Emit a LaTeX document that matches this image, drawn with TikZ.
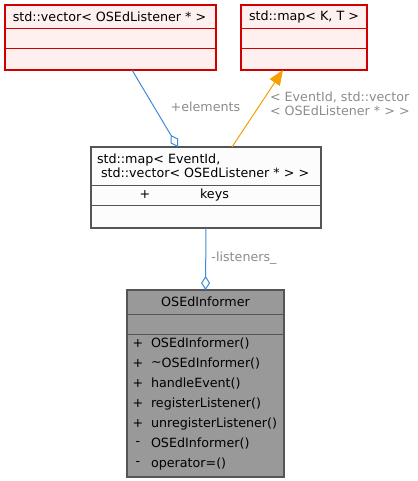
\documentclass[tikz,border=0pt]{standalone}
\usepackage{fontspec}
\setmainfont{DejaVu Sans}
\usetikzlibrary{arrows.meta}
\definecolor{pinkfill}{HTML}{FFF0F0}
\definecolor{tplred}{HTML}{D00000}
\definecolor{cfill}{HTML}{FBFCFB}
\definecolor{cborder}{HTML}{555555}
\definecolor{dfill}{HTML}{999999}
\definecolor{dborder}{HTML}{555555}
\definecolor{edgeblue}{HTML}{3D8BD6}
\definecolor{edgeorange}{HTML}{F5A000}
\definecolor{lblgray}{HTML}{8C8C8C}
\newcommand{\boxfont}{\fontsize{12.7}{14}\selectfont}
\begin{document}
\begin{tikzpicture}[x=1pt,y=1pt,
  every node/.style={inner sep=0pt, outer sep=0pt},
  tplbox/.style={draw=tplred, fill=pinkfill, line width=1.2pt, minimum height=65pt},
  classbox/.style={draw=cborder, fill=cfill, line width=1.1pt},
  curbox/.style={draw=dborder, fill=dfill, line width=1.1pt},
  sepline/.style={line width=1pt},
  usage/.style={draw=edgeblue, line width=1pt, -{Diamond[open, length=14pt, width=9pt, line width=1pt]}},
  tplinst/.style={draw=edgeorange, line width=1pt, -{Triangle[length=15pt, width=12pt, fill=edgeorange]}},
  elabel/.style={text=lblgray, font=\boxfont},
  txt/.style={text=black, font=\boxfont}
]
\useasboundingbox (0,0) rectangle (417,-481);

% Box A: std::vector< OSEdListener * >
\node[tplbox, minimum width=211pt] (A) at (110.5,-37.5) {};
\draw[tplred, sepline] ([yshift=-24pt]A.north west) -- ([yshift=-24pt]A.north east);
\draw[tplred, sepline] ([yshift=-44pt]A.north west) -- ([yshift=-44pt]A.north east);
\node[txt] (Atitle) at (109.5,-17) {std::vector< OSEdListener * >};

% Box B: std::map< K, T >
\node[tplbox, minimum width=126pt] (B) at (304,-37.5) {};
\draw[tplred, sepline] ([yshift=-24pt]B.north west) -- ([yshift=-24pt]B.north east);
\draw[tplred, sepline] ([yshift=-44pt]B.north west) -- ([yshift=-44pt]B.north east);
\node[txt] (Btitle) at (304,-17) {std::map< K, T >};

% Box C: std::map< EventId, std::vector< OSEdListener * > >
\node[classbox, minimum width=230pt, minimum height=81pt] (C) at (206,-187.5) {};
\draw[cborder, sepline] ([yshift=-38pt]C.north west) -- ([yshift=-38pt]C.north east);
\draw[cborder, sepline] ([yshift=-58pt]C.north west) -- ([yshift=-58pt]C.north east);
\node[txt, anchor=west, align=left] (Ctitle) at (97,-166)
  {std::map< EventId,\\\hspace*{4pt}std::vector< OSEdListener * > >};
\node[txt] (Cplus) at (145,-195) {+};
\node[txt] (Ckeys) at (214.5,-195) {keys};

% Box D: OSEdInformer
\node[curbox, minimum width=157pt, minimum height=187pt] (D) at (205.5,-383.5) {};
\draw[dborder, sepline] ([yshift=-24pt]D.north west) -- ([yshift=-24pt]D.north east);
\draw[dborder, sepline] ([yshift=-44pt]D.north west) -- ([yshift=-44pt]D.north east);
\node[txt] (Dtitle) at (205.5,-302) {OSEdInformer};
\foreach \v/\m [count=\i from 0] in {+/OSEdInformer(), +/{\raisebox{0.2ex}{\textasciitilde}OSEdInformer()}, +/handleEvent(), +/registerListener(), +/unregisterListener(), -/OSEdInformer(), -/operator=()}{
  \node[txt] (Dv\i) at (138,-344-20*\i) {\v};
  \node[txt, anchor=west] (Dm\i) at (151,-344-20*\i) {\m};
}

% Edges
\draw[usage] ([xshift=21.5pt]A.south) -- ([xshift=-28pt]C.north);
\node[elabel] (Lelem) at (205.5,-107) {+elements};

\draw[tplinst] ([xshift=26pt]C.north) -- ([xshift=-21pt]B.south);
\node[elabel, anchor=west, align=left] (Ltpl) at (270,-104)
  {< EventId, std::vector\\< OSEdListener * > >};

\draw[usage] (C.south) -- (D.north);
\node[elabel] (Llist) at (244,-258) {-listeners\_};
\end{tikzpicture}
\end{document}
